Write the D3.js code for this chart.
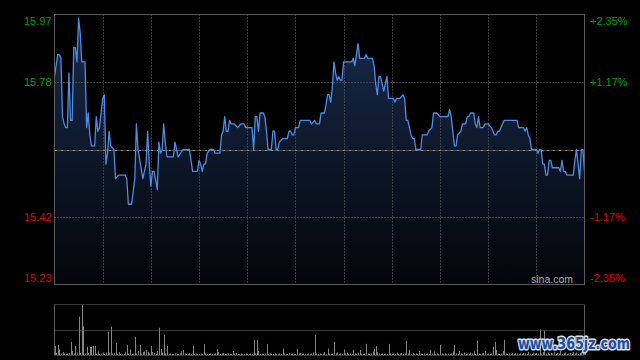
<!DOCTYPE html>
<html><head><meta charset="utf-8">
<script src="https://cdn.jsdelivr.net/npm/d3@7"></script>
<style>html,body{margin:0;padding:0;background:#000;}svg{display:block;}</style>
</head><body>
<svg id="c" width="640" height="360"></svg>
<script>
// ---- data ----
const prevClose = 15.60;
const priceMin = 15.23, priceMax = 15.97;
const priceLabels = ["15.97", "15.78", "15.42", "15.23"];
const pctLabels = ["+2.35%", "+1.17%", "-1.17%", "-2.35%"];
const labelFractions = [1, 0.75, 0.25, 0];
const totalMinutes = 330;
const minutes = [0,2,3,4,5,6,7,8,9,10,11,12,13,14,15,16,17,19,20,21,22,23,25,26,27,28,29,30,31,32,33,34,35,37,38,40,44,45,46,48,50,51,52,55,57,58,59,60,61,62,64,65,66,67,68,69,70,74,75,76,77,80,84,85,86,89,90,91,92,93,94,95,97,99,100,103,104,105,106,107,108,109,110,112,114,116,118,119,123,124,125,126,127,128,130,131,132,133,135,136,137,138,139,140,142,145,146,147,148,149,150,152,153,159,160,162,163,165,166,168,169,170,171,172,173,174,175,176,177,178,179,180,185,186,187,189,190,193,194,195,198,199,200,201,202,203,205,207,208,211,212,213,215,217,218,219,220,221,222,223,224,225,228,229,232,233,235,236,238,240,245,246,247,248,249,250,251,253,254,256,257,258,259,261,262,263,264,265,267,268,270,272,273,274,275,276,277,278,280,288,289,292,293,294,295,296,297,300,301,302,303,304,305,306,307,308,309,310,312,313,314,315,316,317,318,319,320,323,324,325,326,327,328,329,330];
const prices = [15.80,15.86,15.86,15.85,15.69,15.67,15.66,15.66,15.81,15.68,15.68,15.88,15.88,15.84,15.96,15.92,15.84,15.84,15.66,15.70,15.64,15.61,15.61,15.69,15.65,15.66,15.70,15.74,15.75,15.56,15.59,15.65,15.61,15.60,15.52,15.53,15.53,15.52,15.45,15.45,15.52,15.67,15.60,15.52,15.56,15.65,15.56,15.50,15.54,15.54,15.49,15.62,15.59,15.60,15.67,15.62,15.58,15.58,15.62,15.60,15.58,15.60,15.60,15.57,15.54,15.54,15.57,15.56,15.54,15.56,15.56,15.59,15.60,15.60,15.59,15.59,15.64,15.65,15.69,15.65,15.65,15.68,15.67,15.67,15.66,15.67,15.67,15.66,15.66,15.60,15.69,15.69,15.65,15.70,15.70,15.69,15.65,15.60,15.60,15.65,15.65,15.60,15.60,15.62,15.63,15.63,15.65,15.65,15.64,15.64,15.66,15.66,15.68,15.68,15.67,15.68,15.67,15.67,15.70,15.70,15.72,15.75,15.75,15.73,15.77,15.84,15.81,15.79,15.80,15.79,15.79,15.84,15.84,15.85,15.83,15.89,15.85,15.85,15.86,15.85,15.85,15.83,15.78,15.75,15.80,15.80,15.76,15.80,15.74,15.74,15.73,15.74,15.74,15.75,15.74,15.68,15.68,15.66,15.64,15.63,15.63,15.60,15.60,15.64,15.64,15.65,15.66,15.70,15.70,15.69,15.69,15.71,15.69,15.65,15.61,15.61,15.64,15.65,15.67,15.67,15.69,15.69,15.70,15.70,15.67,15.66,15.69,15.66,15.66,15.67,15.67,15.66,15.65,15.64,15.64,15.65,15.65,15.66,15.68,15.68,15.66,15.66,15.65,15.66,15.64,15.63,15.60,15.60,15.59,15.60,15.60,15.56,15.56,15.53,15.53,15.57,15.57,15.55,15.55,15.55,15.55,15.54,15.57,15.54,15.54,15.53,15.53,15.53,15.57,15.60,15.56,15.52,15.60,15.60,15.54];
const volumes = [18,4,20,11,3,6,3,2,3,4,
 26,8,3,18,5,76,4,100,57,3,
 16,4,16,16,18,18,3,7,2,3,
 5,2,5,46,5,56,3,4,24,3,
 6,2,2,2,6,20,3,11,2,3,
 36,3,8,20,3,6,7,10,6,3,
 18,6,4,2,8,54,12,5,40,3,
 18,2,3,2,2,3,2,2,3,7,
 10,3,2,2,3,2,18,2,3,2,
 2,3,2,22,3,2,2,3,2,2,
 3,12,6,2,3,4,2,2,3,2,
 2,8,3,4,2,2,3,2,2,3,
 2,2,3,2,30,3,30,8,2,3,
 2,3,22,2,3,2,2,3,2,2,
 3,2,13,3,2,2,4,2,3,2,
 2,12,3,4,2,3,2,2,3,2,
 3,5,40,3,2,3,2,3,6,2,
 13,3,2,3,26,3,5,2,3,2,
 11,3,5,2,3,2,10,3,2,5,
 10,3,2,3,22,3,2,3,7,12,
 18,6,3,2,3,2,3,2,22,3,
 2,3,2,5,2,3,4,2,3,28,
 3,10,2,4,2,3,2,8,3,2,
 3,2,3,2,10,3,7,2,3,2,
 20,3,2,3,2,3,2,3,7,20,
 3,2,8,3,2,5,2,3,2,5,
 3,7,2,28,3,2,3,4,8,2,
 3,2,3,16,26,10,3,2,3,8,
 30,3,2,3,2,4,2,4,3,2,
 3,2,4,3,2,6,3,2,5,3,
 4,3,51,3,6,48,3,5,2,4,
 3,6,2,4,3,8,2,3,5,2,
 3,4,2,6,3,5,2,4,6,8,12];

// ---- layout ----
const L = 54.5, R = 584.5, T = 14.5, B = 284.5;
const VT = 304.5, VB = 355;
const svg = d3.select("#c");
svg.append("rect").attr("width",640).attr("height",360).attr("fill","#000");

const x = d3.scaleLinear().domain([0,totalMinutes]).range([L,R]);
const y = d3.scaleLinear().domain([priceMin,priceMax]).range([B,T]);
const yv = d3.scaleLinear().domain([0,d3.max(volumes)]).range([VB,VT]);

const defs = svg.append("defs");
const g = defs.append("linearGradient").attr("id","ag").attr("gradientUnits","userSpaceOnUse")
  .attr("x1",0).attr("y1",T).attr("x2",0).attr("y2",B);
g.append("stop").attr("offset","0%").attr("stop-color","#182b4c");
g.append("stop").attr("offset","100%").attr("stop-color","#03050a");

const data = minutes.map((m,i)=>({m, p: prices[i]}));

// area
svg.append("path").datum(data)
  .attr("d", d3.area().x(d=>x(d.m)).y0(y(priceMin)).y1(d=>y(d.p)))
  .attr("fill","url(#ag)");

// grid verticals (11 columns)
const colTicks = d3.range(1,11).map(i=>i*totalMinutes/11);
svg.append("g").selectAll("line").data(colTicks).join("line")
  .attr("x1",d=>Math.round(x(d))+0.5).attr("x2",d=>Math.round(x(d))+0.5)
  .attr("y1",T).attr("y2",B)
  .attr("stroke","#6a6a6a").attr("stroke-dasharray","1,2");

// horizontal grid (quarters)
const hTicks = [priceMin + (priceMax-priceMin)*0.25, priceMin + (priceMax-priceMin)*0.75];
svg.append("g").selectAll("line").data(hTicks).join("line")
  .attr("x1",L).attr("x2",R)
  .attr("y1",d=>Math.round(y(d))+0.5).attr("y2",d=>Math.round(y(d))+0.5)
  .attr("stroke","#6a6a6a").attr("stroke-dasharray","1,2");
// prev close line
svg.append("line").attr("x1",L).attr("x2",R)
  .attr("y1",Math.round(y(prevClose))+0.5).attr("y2",Math.round(y(prevClose))+0.5)
  .attr("stroke","#8a8a8a").attr("stroke-dasharray","3,1,1,1");

// price line
svg.append("path").datum(data)
  .attr("d", d3.line().x(d=>x(d.m)).y(d=>y(d.p)))
  .attr("fill","none").attr("stroke","#4d8ce4").attr("stroke-width",1.3)
  .attr("stroke-linejoin","round");

// frame
svg.append("rect").attr("x",L).attr("y",T).attr("width",R-L).attr("height",B-T)
  .attr("fill","none").attr("stroke","#5c5c5c");

// labels
const font = "'Liberation Sans', Arial, sans-serif";
const labelY = [24.5, 86, 221, 282];
svg.append("g").selectAll("text").data(priceLabels).join("text")
  .attr("x",51.5).attr("y",(d,i)=>labelY[i]).attr("text-anchor","end")
  .attr("font-family",font).attr("font-size",11)
  .attr("fill",(d,i)=>labelFractions[i]>0.5?"#00a000":"#e00000")
  .text(d=>d);
svg.append("g").selectAll("text").data(pctLabels).join("text")
  .attr("x",590).attr("y",(d,i)=>labelY[i]).attr("text-anchor","start")
  .attr("font-family",font).attr("font-size",11)
  .attr("fill",d=>d[0]==="+"?"#00a000":"#e00000")
  .text(d=>d);

svg.append("text").attr("x",573).attr("y",283).attr("text-anchor","end")
  .attr("font-family",font).attr("font-size",10.5).attr("fill","#a8a8a8").text("sina.com");

// volume panel
svg.append("g").selectAll("line").data(volumes).join("line")
  .attr("x1",(d,i)=>Math.round(x(i))+0.5).attr("x2",(d,i)=>Math.round(x(i))+0.5)
  .attr("y1",VB).attr("y2",d=>yv(d))
  .attr("stroke","#858585").attr("stroke-width",1);
svg.append("line").attr("x1",L).attr("x2",R).attr("y1",VT).attr("y2",VT)
  .attr("stroke","#6a6a6a").attr("stroke-dasharray","1,1");
svg.append("line").attr("x1",L).attr("x2",R)
  .attr("y1",Math.round(yv(d3.max(volumes)/2))+0.5).attr("y2",Math.round(yv(d3.max(volumes)/2))+0.5)
  .attr("stroke","#6a6a6a").attr("stroke-dasharray","1,1");
svg.append("line").attr("x1",L).attr("x2",L).attr("y1",VT).attr("y2",VB).attr("stroke","#5c5c5c");
svg.append("line").attr("x1",R).attr("x2",R).attr("y1",VT).attr("y2",VB).attr("stroke","#5c5c5c");
svg.append("line").attr("x1",L).attr("x2",R).attr("y1",VB+0.5).attr("y2",VB+0.5).attr("stroke","#3a3a3a");

// site watermark
svg.append("text").attr("x",518).attr("y",349)
  .attr("font-family","'DejaVu Sans', Verdana, sans-serif").attr("font-weight","bold")
  .attr("font-size",16).attr("textLength",112).attr("lengthAdjust","spacingAndGlyphs")
  .attr("fill","#1d4f9e").attr("stroke","#d8dde6").attr("stroke-width",3)
  .attr("paint-order","stroke").attr("stroke-linejoin","round")
  .text("www.365jz.com");
</script>
</body></html>
